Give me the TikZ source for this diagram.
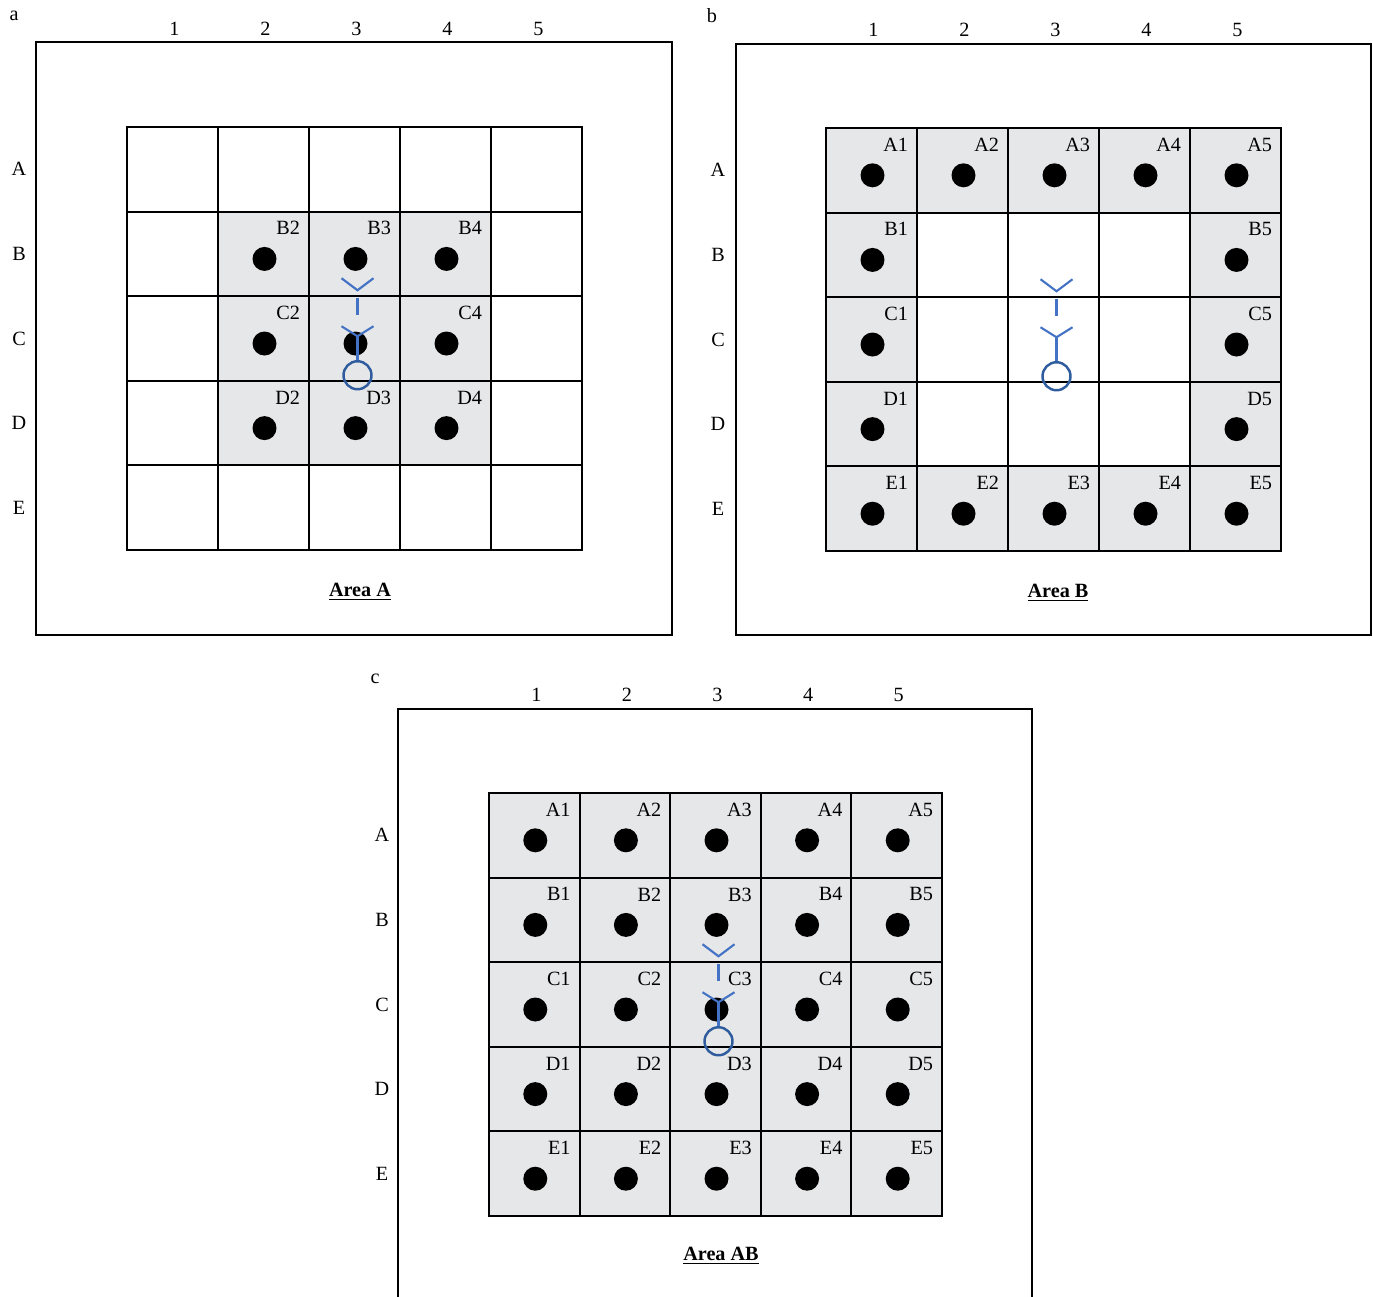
\documentclass[tikz,border=0pt]{standalone}
\usepackage{fontspec}
\setmainfont{Liberation Serif}
\usetikzlibrary{calc}
\definecolor{cellbg}{HTML}{E6E7E8}
\definecolor{walkerline}{HTML}{4472C4}
\definecolor{walkerhead}{HTML}{2F5C9E}

\begin{document}
\begin{tikzpicture}[
    x=0.02cm, y=-0.02cm,
    line width=1.1pt,
    font=\fontsize{11.5}{14}\selectfont,
    frame/.style={draw, line width=1.1pt},
    cell/.style={draw, line width=1.1pt, minimum width=1.82cm, minimum height=1.692cm, inner sep=0},
    dot/.style={circle, fill=black, minimum size=0.48cm, inner sep=0},
    tag/.style={anchor=north east, inner sep=0},
    title/.style={font=\fontsize{11.5}{14}\selectfont\bfseries},
    walker/.pic={
        \draw[walkerline, line width=1.2pt] (-16,-12) -- (0,0) -- (16,-12);
        \draw[walkerline, line width=1.2pt] (0,8) -- (0,25);
        \draw[walkerline, line width=1.2pt] (-16,36) -- (0,46) -- (16,36);
        \draw[walkerline, line width=1.2pt] (0,46) -- (0,71);
        \draw[walkerhead, line width=1.4pt] (0,85) circle [radius=0.28cm];
    }
]
    \useasboundingbox (0,0) rectangle (1373,1296);

    % a. Area A (top left)
    \begin{scope}[shift={(127,127)}]
        \draw[frame] (-91,-85) rectangle (545,508);
        \node (a-tag) at (-113,-111) {a};
        \foreach \c in {1,...,5} \node (a-col\c) at ({(\c-0.5)*91+2},-98) {\c};
        \foreach \r [count=\i] in {A,B,C,D,E} \node (a-row\r) at (-108,{(\i-0.5)*84.6}) {\r};
        \fill[cellbg] (91,84.6) rectangle (364,338.4);
        \foreach \r [count=\i] in {A,B,C,D,E}
            \foreach \c in {1,...,5}
                \node[cell] (a-\r\c) at ({(\c-0.5)*91},{(\i-0.5)*84.6}) {};
        \foreach \n in {B2,B3,B4,C2,C3,C4,D2,D3,D4}
            \node[dot] (a-dot\n) at ([shift={(1,5)}]a-\n.center) {};
        \foreach \n in {B2,B3,B4,C2,C4,D2,D3,D4}
            \node[tag] (a-tag\n) at ([shift={(-9,10)}]a-\n.north east) {\n};
        \pic at ([shift={(3,-5)}]a-C3.north) {walker};
        \node[title] (a-title) at (233,465) {\underline{Area A}};
    \end{scope}

    % b. Area B (top right)
    \begin{scope}[shift={(826,128)}]
        \draw[frame] (-90,-84) rectangle (545,507);
        \node (b-tag) at (-114,-112) {b};
        \foreach \c in {1,...,5} \node (b-col\c) at ({(\c-0.5)*91+2},-98) {\c};
        \foreach \r [count=\i] in {A,B,C,D,E} \node (b-row\r) at (-108,{(\i-0.5)*84.6}) {\r};
        \fill[cellbg] (0,0) rectangle (455,423);
        \fill[white] (91,84.6) rectangle (364,338.4);
        \foreach \r [count=\i] in {A,B,C,D,E}
            \foreach \c in {1,...,5}
                \node[cell] (b-\r\c) at ({(\c-0.5)*91},{(\i-0.5)*84.6}) {};
        \foreach \n in {A1,A2,A3,A4,A5,B1,B5,C1,C5,D1,D5,E1,E2,E3,E4,E5} {
            \node[dot] (b-dot\n) at ([shift={(1,5)}]b-\n.center) {};
            \node[tag] (b-tag\n) at ([shift={(-9,10)}]b-\n.north east) {\n};
        }
        \pic at ([shift={(3,-5)}]b-C3.north) {walker};
        \node[title] (b-title) at (232,465) {\underline{Area B}};
    \end{scope}

    % c. Area AB (bottom centre)
    \begin{scope}[shift={(489,793)}]
        \draw[frame] (-91,-84) rectangle (543,508);
        \node (c-tag) at (-114,-114) {c};
        \foreach \c in {1,...,5} \node (c-col\c) at ({(\c-0.5)*90.6+2},-98) {\c};
        \foreach \r [count=\i] in {A,B,C,D,E} \node (c-row\r) at (-107,{(\i-0.5)*84.6}) {\r};
        \fill[cellbg] (0,0) rectangle (453,423);
        \foreach \r [count=\i] in {A,B,C,D,E}
            \foreach \c in {1,...,5} {
                \node[cell, minimum width=1.812cm] (c-\r\c) at ({(\c-0.5)*90.6},{(\i-0.5)*84.6}) {};
                \node[dot] (c-dot\r\c) at ([shift={(1,5)}]c-\r\c.center) {};
                \node[tag] (c-tag\r\c) at ([shift={(-9,10)}]c-\r\c.north east) {\r\c};
            }
        \pic at ([shift={(3,-5)}]c-C3.north) {walker};
        \node[title] (c-title) at (232,463) {\underline{Area AB}};
    \end{scope}

\end{tikzpicture}
\end{document}
